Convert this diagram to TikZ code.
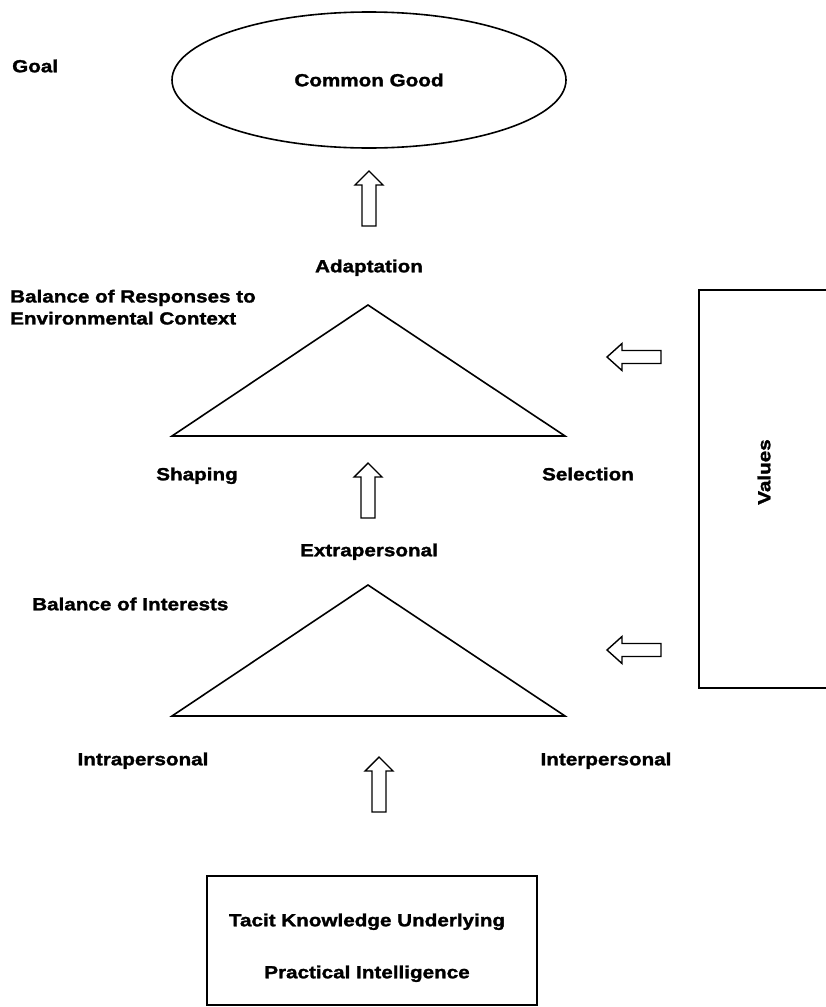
\documentclass[tikz,border=0pt]{standalone}
\usepackage{fontspec}
\setmainfont{Liberation Sans}[FakeStretch=1.18, BoldFeatures={FakeBold=1.6}]
\usetikzlibrary{shapes.geometric}

\tikzset{
  lbl/.style={font=\bfseries\fontsize{17.5}{22}\selectfont, inner sep=0pt,
              text height=12.5pt, text depth=0pt},
  outline/.style={draw=black, line width=1.6pt, line join=miter},
  arrowline/.style={draw=black, line width=1.4pt, fill=white, line join=miter},
  % hollow block arrow pointing up, origin at the tip
  uparrow/.pic={
    \path[arrowline] (0,0) -- (14,14) -- (7,14) -- (7,55) -- (-7,55)
      -- (-7,14) -- (-14,14) -- cycle;
  },
  % hollow block arrow pointing left, origin at the tip
  leftarrow/.pic={
    \path[arrowline] (0,0) -- (15,-13.5) -- (15,-6.5) -- (54,-6.5) -- (54,6.5)
      -- (15,6.5) -- (15,13.5) -- cycle;
  }
}

\begin{document}
\begin{tikzpicture}[x=1pt, y=-1pt]
  \path[use as bounding box, clip] (0,0) rectangle (826,1007);
  \fill[white] (0,0) rectangle (826,1007);

  % goal
  \node[lbl, anchor=west] (goal) at (12,66) {Goal};
  \node[ellipse, outline, minimum width=394pt, minimum height=136pt, inner sep=0pt]
    (common) at (369,80) {};
  \node[lbl] (commontxt) at (369,80) {Common Good};
  \pic (a1) at (369,171) {uparrow};

  % environmental context triangle
  \node[lbl] (adapt) at (369,266) {Adaptation};
  \node[lbl, anchor=north west, align=left] (balresp) at (10,311.75)
    {Balance of Responses to\\Environmental Context};
  \coordinate (t1top) at (368,305);
  \coordinate (t1left) at (172,436);
  \coordinate (t1right) at (565,436);
  \path[outline] (t1top) -- (t1left) -- (t1right) -- cycle;
  \node[lbl] (shaping) at (197,474) {Shaping};
  \node[lbl] (selection) at (588,474) {Selection};
  \pic (a2) at (368,463) {uparrow};

  % interests triangle
  \node[lbl] (extra) at (369,550) {Extrapersonal};
  \node[lbl, anchor=west] (balint) at (32,604) {Balance of Interests};
  \coordinate (t2top) at (368,585);
  \coordinate (t2left) at (172,716);
  \coordinate (t2right) at (565,716);
  \path[outline] (t2top) -- (t2left) -- (t2right) -- cycle;
  \node[lbl] (intra) at (143,759) {Intrapersonal};
  \node[lbl] (inter) at (606,759) {Interpersonal};
  \pic (a3) at (379,757) {uparrow};

  % values
  \coordinate (vtl) at (699,290);
  \coordinate (vbr) at (860,688);
  \path[outline] (vtl) rectangle (vbr);
  \node[lbl, rotate=90] (values) at (764,472) {Values};
  \pic (a4) at (607,357) {leftarrow};
  \pic (a5) at (607,650) {leftarrow};

  % tacit knowledge
  \coordinate (ktl) at (207,876);
  \coordinate (kbr) at (537,1005);
  \path[outline] (ktl) rectangle (kbr);
  \node[lbl] (tacit1) at (367,920) {Tacit Knowledge Underlying};
  \node[lbl] (tacit2) at (367,972) {Practical Intelligence};
\end{tikzpicture}
\end{document}
